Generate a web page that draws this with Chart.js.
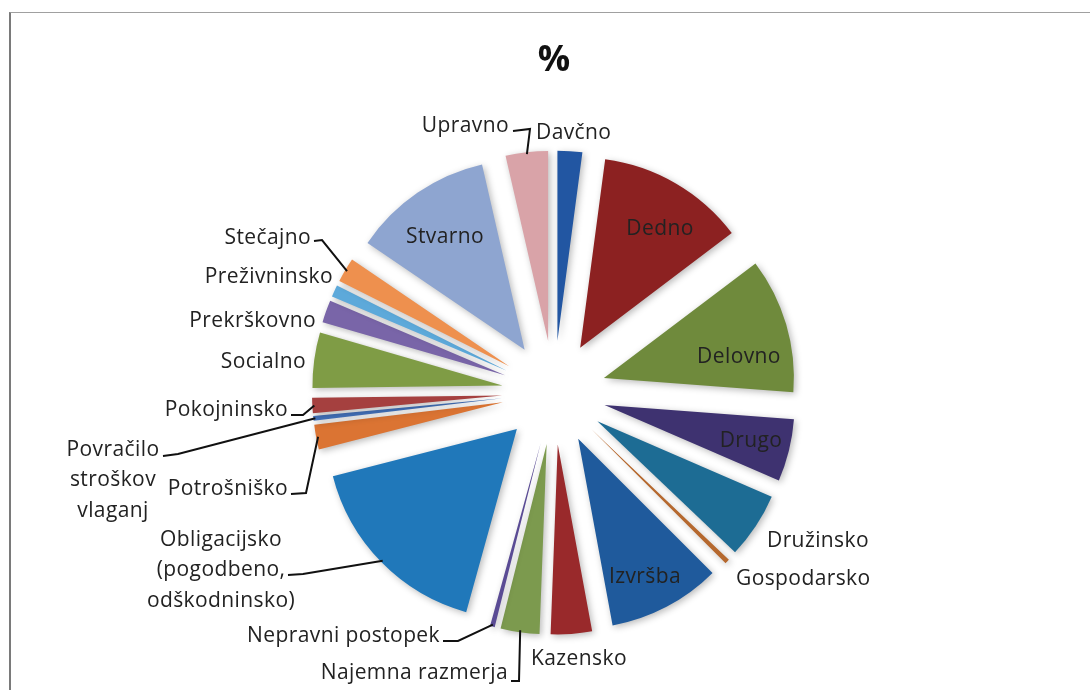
<!DOCTYPE html>
<html>
<head>
<meta charset="utf-8">
<script src="https://cdn.jsdelivr.net/npm/chart.js@4.4.1/dist/chart.umd.min.js"></script>
<style>
  html, body { margin: 0; padding: 0; background: #ffffff; }
  #wrap { position: relative; width: 1090px; height: 690px; overflow: hidden; background: #fff; }
  #frame { position: absolute; left: 9px; top: 12px; width: 1100px; height: 700px;
           border-left: 2px solid #7a7a7a; border-top: 1px solid #a0a0a0; box-sizing: border-box; }
  canvas { position: absolute; left: 0; top: 0; }
</style>
</head>
<body>
<div id="wrap">
  <div id="frame"></div>
  <canvas id="c" width="1090" height="690"></canvas>
</div>
<script>
// ---- data (shares in %, clockwise from 12 o'clock) ----
const categories = [
  'Davčno', 'Dedno', 'Delovno', 'Drugo', 'Družinsko', 'Gospodarsko', 'Izvršba',
  'Kazensko', 'Najemna razmerja', 'Nepravni postopek',
  'Obligacijsko (pogodbeno, odškodninsko)', 'Potrošniško',
  'Povračilo stroškov vlaganj', 'Pokojninsko', 'Socialno', 'Prekrškovno',
  'Preživninsko', 'Stečajno', 'Stvarno', 'Upravno'
];
const shares = [
  2.1, 12.6, 11.5, 5.3, 5.6, 0.4, 9.6,
  3.5, 3.3, 0.4,
  16.7, 2.1,
  0.4, 1.3, 4.7, 1.9,
  1.0, 2.1, 11.9, 3.6
];
const sliceColors = [
  '#2256A2', '#8C2121', '#6F8A3C', '#3E3270', '#1D6C94', '#B5682E', '#1F5A9C',
  '#99292B', '#7C9A4E', '#5A4B94',
  '#2078BA', '#DB7433',
  '#4270B8', '#A5403F', '#7F9C45', '#7965A8',
  '#5DA9DA', '#EE904E', '#8EA5D0', '#D9A3A8'
];
const titleText = '%';

// ---- layout (label placement, leader elbows) ----
const EXPLODE = 52;
const FONT = '21px "Open Sans", sans-serif';
const labelLayout = {
  'Davčno':            { x: 536, y: 133, align: 'left' },
  'Dedno':             { x: 660, y: 229, align: 'center' },
  'Delovno':           { x: 739, y: 357, align: 'center' },
  'Drugo':             { x: 751, y: 441, align: 'center' },
  'Družinsko':         { x: 767, y: 541, align: 'left' },
  'Gospodarsko':       { x: 736, y: 579, align: 'left' },
  'Izvršba':           { x: 645, y: 577, align: 'center' },
  'Kazensko':          { x: 531, y: 659, align: 'left' },
  'Najemna razmerja':  { x: 508, y: 673, align: 'right', leader: [[511, 681], [519, 681]] },
  'Nepravni postopek': { x: 440, y: 636, align: 'right', leader: [[443, 641], [458, 641]] },
  'Obligacijsko (pogodbeno, odškodninsko)':
                       { x: 221, y: 540, align: 'center', lines: ['Obligacijsko', '(pogodbeno,', 'odškodninsko)'], lh: 30.5,
                         leader: [[288, 575], [303, 574]] },
  'Potrošniško':       { x: 288, y: 489, align: 'right', leader: [[291, 494], [306, 493]] },
  'Povračilo stroškov vlaganj':
                       { x: 113, y: 450, align: 'center', lines: ['Povračilo', 'stroškov', 'vlaganj'], lh: 30.5,
                         leader: [[163, 456], [178, 454]] },
  'Pokojninsko':       { x: 288, y: 410, align: 'right', leader: [[291, 415], [303, 415]] },
  'Socialno':          { x: 306, y: 362, align: 'right' },
  'Prekrškovno':       { x: 316, y: 321, align: 'right' },
  'Preživninsko':      { x: 333, y: 277, align: 'right' },
  'Stečajno':          { x: 311, y: 238, align: 'right', leader: [[314, 241], [322, 240]] },
  'Stvarno':           { x: 445, y: 237, align: 'center' },
  'Upravno':           { x: 509, y: 126, align: 'right', leader: [[513, 131], [530, 129]] }
};

// move every slice outward along its own mid-angle (exploded pie)
const explodePlugin = {
  id: 'explode',
  afterDatasetUpdate(chart, args) {
    args.meta.data.forEach(arc => {
      const mid = (arc.startAngle + arc.endAngle) / 2;
      arc.x = arc.x + Math.cos(mid) * EXPLODE;
      arc.y = arc.y + Math.sin(mid) * EXPLODE;
    });
  },
  beforeDatasetDraw(chart) {
    const ctx = chart.ctx;
    ctx.save();
    ctx.shadowColor = 'rgba(0,0,0,0.28)';
    ctx.shadowBlur = 7;
    ctx.shadowOffsetX = 2;
    ctx.shadowOffsetY = 2;
  },
  afterDatasetDraw(chart) {
    chart.ctx.restore();
  }
};

const labelPlugin = {
  id: 'sliceLabels',
  afterDraw(chart) {
    const ctx = chart.ctx;
    const meta = chart.getDatasetMeta(0);
    const labels = chart.data.labels;
    ctx.save();
    ctx.font = FONT;
    if ('letterSpacing' in ctx) ctx.letterSpacing = '0.4px';
    ctx.fillStyle = '#222';
    ctx.textBaseline = 'middle';
    meta.data.forEach((arc, i) => {
      const lay = labelLayout[labels[i]];
      if (!lay) return;
      ctx.textAlign = lay.align;
      const lines = lay.lines || [labels[i]];
      lines.forEach((t, k) => ctx.fillText(t, lay.x, lay.y + k * (lay.lh || 0)));
      if (lay.leader) {
        const mid = (arc.startAngle + arc.endAngle) / 2;
        const ex = arc.x + Math.cos(mid) * (arc.outerRadius - 2);
        const ey = arc.y + Math.sin(mid) * (arc.outerRadius - 2);
        ctx.beginPath();
        ctx.strokeStyle = '#111';
        ctx.lineWidth = 2;
        ctx.moveTo(lay.leader[0][0], lay.leader[0][1]);
        for (let k = 1; k < lay.leader.length; k++) ctx.lineTo(lay.leader[k][0], lay.leader[k][1]);
        ctx.lineTo(ex, ey);
        ctx.stroke();
      }
    });
    ctx.restore();
  }
};

new Chart(document.getElementById('c'), {
  type: 'pie',
  data: {
    labels: categories,
    datasets: [{
      data: shares,
      backgroundColor: sliceColors,
      borderWidth: 0,
      radius: 190
    }]
  },
  options: {
    responsive: false,
    devicePixelRatio: 1,
    animation: false,
    layout: { padding: { left: 18, right: 0, top: 0, bottom: 0 } },
    plugins: {
      legend: { display: false },
      tooltip: { enabled: false },
      title: {
        display: true,
        text: titleText,
        color: '#111',
        font: { family: '"Open Sans", sans-serif', size: 36, weight: 'bold' },
        padding: { top: 39, bottom: 13 }
      }
    }
  },
  plugins: [explodePlugin, labelPlugin]
});
</script>
</body>
</html>
